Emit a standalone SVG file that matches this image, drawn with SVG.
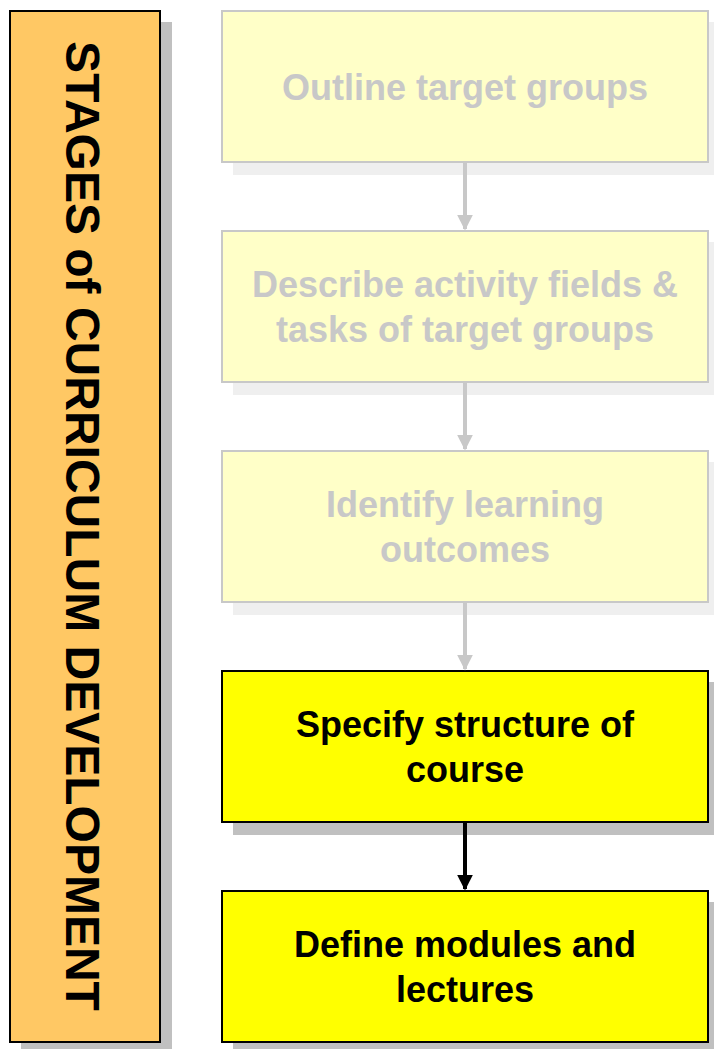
<svg xmlns="http://www.w3.org/2000/svg" width="714" height="1049" viewBox="0 0 714 1049">
<style>
.t{font-family:"Liberation Sans",Arial,sans-serif;font-weight:bold;font-size:36px;text-anchor:middle}
.faded rect.b{fill:#ffffc8;stroke:#c8c8c8;stroke-width:2}
.faded rect.s{fill:#efefef}
.faded text{fill:#c8c8c8}
.active rect.b{fill:#ffff00;stroke:#000;stroke-width:2}
.active rect.s{fill:#c0c0c0}
.active text{fill:#000}
</style>
<defs>
<marker id="ag" markerWidth="4" markerHeight="4" refX="3.6" refY="2" orient="auto" markerUnits="strokeWidth"><path d="M0,0 L4,2 L0,4 Z" fill="#c8c8c8"/></marker>
<marker id="ab" markerWidth="4" markerHeight="4" refX="3.6" refY="2" orient="auto" markerUnits="strokeWidth"><path d="M0,0 L4,2 L0,4 Z" fill="#000"/></marker>
</defs>
<rect width="714" height="1049" fill="#fff"/>
<g id="stages">
<rect x="21" y="22" width="151" height="1032" fill="#c0c0c0"/>
<rect x="10" y="11" width="150" height="1031" fill="#ffc864" stroke="#000" stroke-width="2"/>
<text transform="translate(66,526) rotate(90)" style="font-family:'Liberation Sans',Arial,sans-serif;font-weight:bold;font-size:48px;text-anchor:middle" fill="#000">STAGES of CURRICULUM DEVELOPMENT</text>
</g>
<g id="n1" class="faded">
<rect class="s" x="233" y="22" width="487" height="153"/>
<rect class="b" x="222" y="11" width="486" height="151"/>
<text class="t" x="465" y="100">Outline target groups</text>
</g>
<g id="n2" class="faded">
<rect class="s" x="233" y="242" width="487" height="153"/>
<rect class="b" x="222" y="231" width="486" height="151"/>
<text class="t" x="465" y="297">Describe activity fields &amp;</text>
<text class="t" x="465" y="342">tasks of target groups</text>
</g>
<g id="n3" class="faded">
<rect class="s" x="233" y="462" width="487" height="153"/>
<rect class="b" x="222" y="451" width="486" height="151"/>
<text class="t" x="465" y="517">Identify learning</text>
<text class="t" x="465" y="562">outcomes</text>
</g>
<g id="n4" class="active">
<rect class="s" x="233" y="682" width="487" height="153"/>
<rect class="b" x="222" y="671" width="486" height="151"/>
<text class="t" x="465" y="737">Specify structure of</text>
<text class="t" x="465" y="782">course</text>
</g>
<g id="n5" class="active">
<rect class="s" x="233" y="902" width="487" height="153"/>
<rect class="b" x="222" y="891" width="486" height="151"/>
<text class="t" x="465" y="957">Define modules and</text>
<text class="t" x="465" y="1002">lectures</text>
</g>
<g id="connectors">
<line x1="465" y1="163" x2="465" y2="229" stroke="#c8c8c8" stroke-width="4" marker-end="url(#ag)"/>
<line x1="465" y1="383" x2="465" y2="449" stroke="#c8c8c8" stroke-width="4" marker-end="url(#ag)"/>
<line x1="465" y1="603" x2="465" y2="669" stroke="#c8c8c8" stroke-width="4" marker-end="url(#ag)"/>
<line x1="465" y1="823" x2="465" y2="889" stroke="#000" stroke-width="4" marker-end="url(#ab)"/>
</g>
</svg>
